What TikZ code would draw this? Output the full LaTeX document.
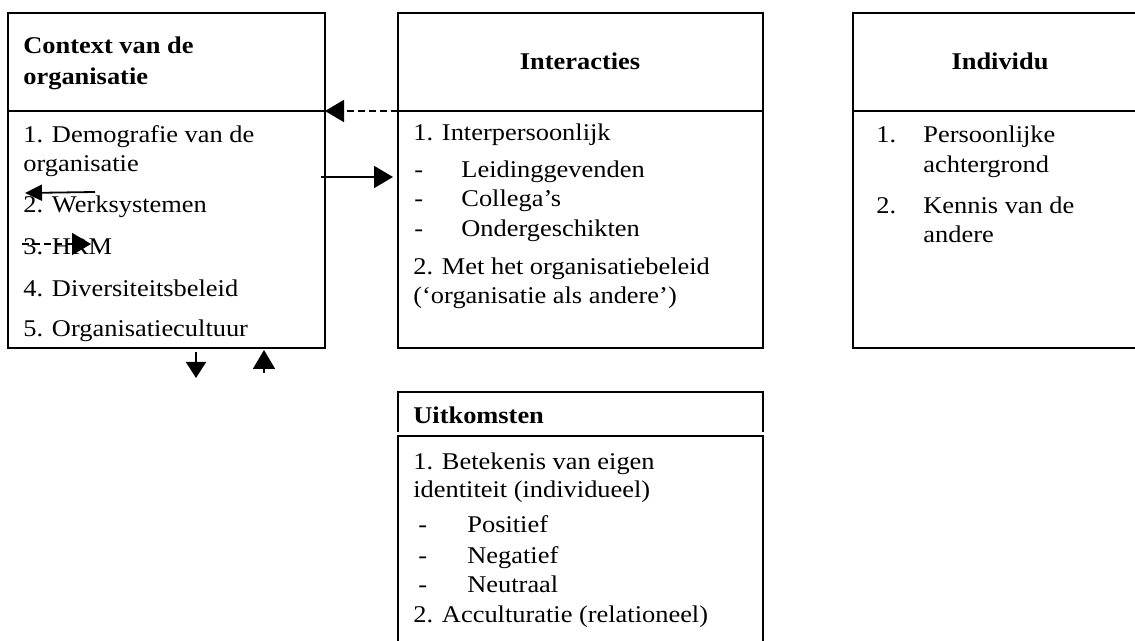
\documentclass[tikz,border=0pt]{standalone}
\usepackage{fontspec}
\setmainfont[FakeStretch=1.1]{Liberation Serif}
\usetikzlibrary{arrows.meta}
\tikzset{
  boxline/.style={draw, line width=1.35pt, inner sep=0pt, outer sep=0pt, anchor=north west},
  bareframe/.style={inner sep=0pt, outer sep=0pt, anchor=north west},
  txt/.style={anchor=base west, inner sep=0pt, font=\fontsize{12}{14}\selectfont},
  hdtxt/.style={anchor=base west, inner sep=0pt, font=\fontsize{12}{14}\selectfont\bfseries},
  hdc/.style={anchor=base, inner sep=0pt, font=\fontsize{12}{14}\selectfont\bfseries},
  conn/.style={line width=0.9pt, -{Triangle[length=9.5pt,width=11pt]}},
  dashconn/.style={conn, dash pattern=on 3.5pt off 2pt},
}
\begin{document}
\begin{tikzpicture}[x=0.5pt,y=-0.5pt]
\path[use as bounding box] (0,0) rectangle (1135,641);
\begin{scope}
\clip (0,0) rectangle (1135,641);
% boxes
\node[boxline, minimum width=158.5pt, minimum height=49pt] (ctxhead) at (8,13) {};
\node[boxline, minimum width=158.5pt, minimum height=118.5pt] (ctxbody) at (8,111) {};
\node[boxline, minimum width=182.5pt, minimum height=49pt] (intrhead) at (398,13) {};
\node[boxline, minimum width=182.5pt, minimum height=118.5pt] (intrbody) at (398,111) {};
\node[boxline, minimum width=150pt, minimum height=49pt] (indhead) at (853,13) {};
\node[boxline, minimum width=150pt, minimum height=118.5pt] (indbody) at (853,111) {};
\node[bareframe, minimum width=182.5pt, minimum height=20pt] (uithead) at (398,392) {};
\draw[line width=1.35pt] (uithead.south west) -- (uithead.north west) -- (uithead.north east) -- (uithead.south east);
\node[boxline, minimum width=182.5pt, minimum height=150pt] (uitbody) at (398,436) {};

% Context van de organisatie
\node[hdtxt] (ctxt1) at (23,54) {Context van de};
\node[hdtxt] (ctxt2) at (23,85) {organisatie};
\node[txt] (c1a) at (23,143) {1. Demografie van de};
\node[txt] (c1b) at (23,172) {organisatie};
\node[txt] (c2) at (23,213) {2. Werksystemen};
\node[txt] (c3) at (23,255) {3. HRM};
\node[txt] (c4) at (23,297) {4. Diversiteitsbeleid};
\node[txt] (c5) at (23,337) {5. Organisatiecultuur};

% Interacties
\node[hdc] (intt) at (580,70) {Interacties};
\node[txt] (i1) at (413,141) {1. Interpersoonlijk};
\node[txt] (i1d1) at (414,178) {-};
\node[txt] (i1a) at (461,178) {Leidinggevenden};
\node[txt] (i1d2) at (414,207) {-};
\node[txt] (i1b) at (461,207) {Collega’s};
\node[txt] (i1d3) at (414,237) {-};
\node[txt] (i1c) at (461,237) {Ondergeschikten};
\node[txt] (i2a) at (413,275) {2. Met het organisatiebeleid};
\node[txt] (i2b) at (413,304) {(‘organisatie als andere’)};

% Individu
\node[hdc] (indt) at (1000,70) {Individu};
\node[txt] (n1) at (876,143) {1.};
\node[txt] (n1a) at (923,143) {Persoonlijke};
\node[txt] (n1b) at (923,173) {achtergrond};
\node[txt] (n2) at (876,214) {2.};
\node[txt] (n2a) at (923,214) {Kennis van de};
\node[txt] (n2b) at (923,243) {andere};

% Uitkomsten
\node[hdtxt] (uitt) at (413,424) {Uitkomsten};
\node[txt] (u1a) at (413,469) {1. Betekenis van eigen};
\node[txt] (u1b) at (413,497) {identiteit (individueel)};
\node[txt] (u1d1) at (418,532) {-};
\node[txt] (u1p) at (467,532) {Positief};
\node[txt] (u1d2) at (418,563) {-};
\node[txt] (u1n) at (467,563) {Negatief};
\node[txt] (u1d3) at (418,592) {-};
\node[txt] (u1u) at (467,592) {Neutraal};
\node[txt] (u2) at (413,622) {2. Acculturatie (relationeel)};

% connectors
\coordinate (sA) at (321,177);
\coordinate (sB) at (393,177);
\coordinate (wA) at (95,192);
\coordinate (wB) at (25,193);
\coordinate (hA) at (22,244);
\coordinate (hB) at (91,244);
\coordinate (dnA) at (196,352);
\coordinate (dnB) at (196,378);
\coordinate (upA) at (264,373);
\coordinate (upB) at (264,350);
\draw[dashconn] (intrhead.south west) -- (ctxhead.south east);
\draw[conn] (sA) -- (sB);
\draw[conn, -{Triangle[length=8.5pt,width=8pt]}] (wA) -- (wB);
\draw[dashconn] (hA) -- (hB);
\draw[conn, -{Triangle[length=8pt,width=10pt]}] (dnA) -- (dnB);
\draw[conn] (upA) -- (upB);
\end{scope}
\end{tikzpicture}
\end{document}
